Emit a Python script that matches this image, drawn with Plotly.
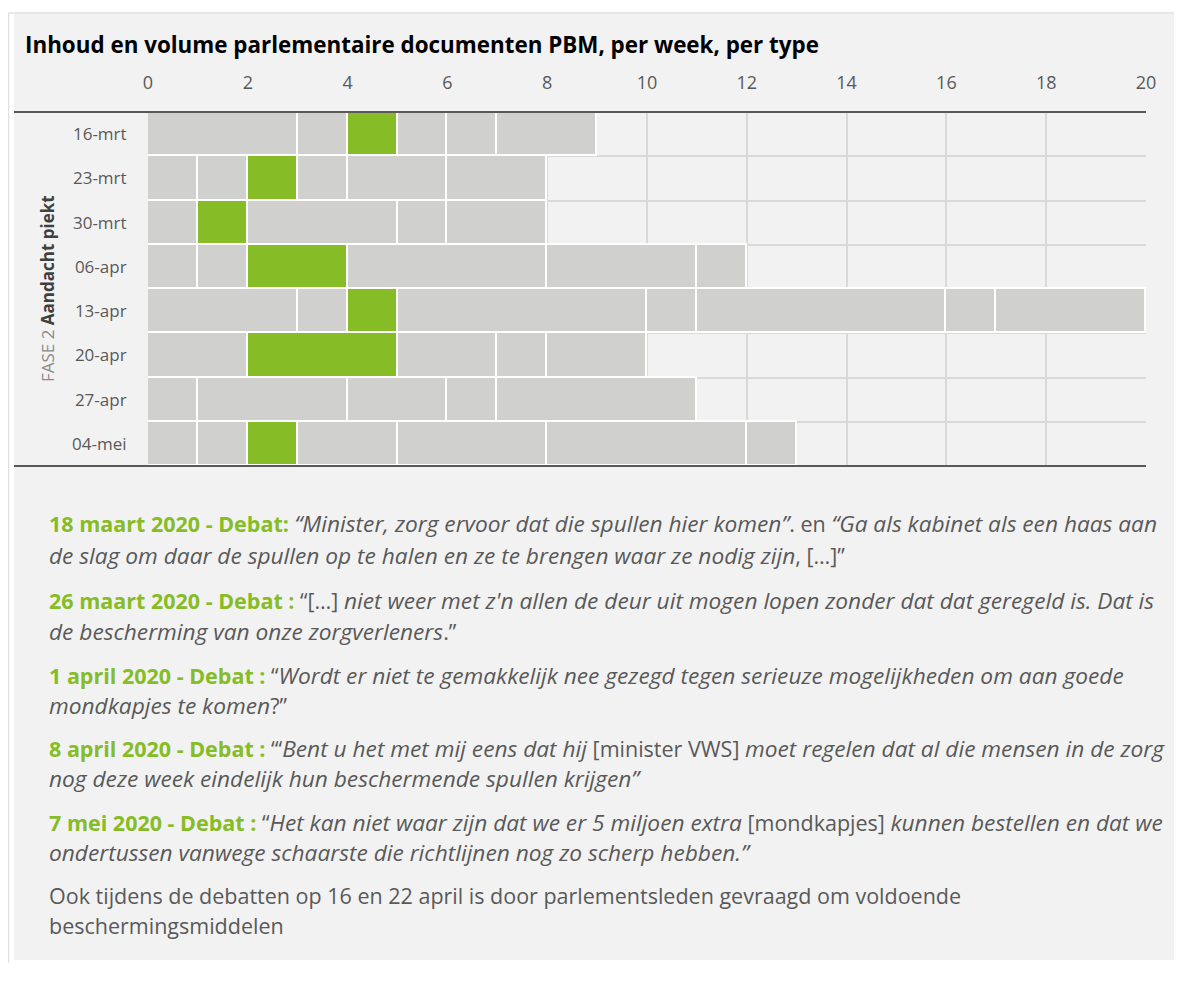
import plotly.graph_objects as go

# ---------------- data ----------------
weeks = ["16-mrt", "23-mrt", "30-mrt", "06-apr", "13-apr", "20-apr", "27-apr", "04-mei"]
docs_16mrt = [3, 1, 1, 1, 1, 2]
docs_23mrt = [1, 1, 1, 1, 2, 2]
docs_30mrt = [1, 1, 3, 1, 2]
docs_06apr = [1, 1, 2, 4, 3, 1]
docs_13apr = [3, 1, 1, 5, 1, 5, 1, 3]
docs_20apr = [2, 3, 2, 1, 2]
docs_27apr = [1, 3, 2, 1, 4]
docs_04mei = [1, 1, 1, 2, 3, 4, 1]
# index of the highlighted (green) document per week (None = no highlight)
green_index = [2, 2, 1, 2, 2, 1, None, 2]
x_ticks = [0, 2, 4, 6, 8, 10, 12, 14, 16, 18, 20]

all_docs = [docs_16mrt, docs_23mrt, docs_30mrt, docs_06apr,
            docs_13apr, docs_20apr, docs_27apr, docs_04mei]

GREY = "#d0d0ce"
GREEN = "#86bc25"
TEXT = "#595959"
PANEL = "#f2f2f2"

OFF = 8  # page body margin
W, H = 1182 - OFF, 955
L, R, T = 148 - OFF, 36, 112 - OFF
B = H - (466 - OFF)
PW = W - L - R
PH = H - T - B


def px(xs):
    """screen x -> paper x"""
    return (xs - OFF - L) / PW


def py(ys):
    """screen y -> paper y"""
    return (H - B - (ys - OFF)) / PH


fig = go.Figure()
ypos = list(range(len(weeks)))
nmax = max(len(d) for d in all_docs)
for k in range(nmax):
    xs, cols = [], []
    for r, d in enumerate(all_docs):
        xs.append(d[k] if k < len(d) else None)
        cols.append(GREEN if green_index[r] == k else GREY)
    fig.add_trace(go.Bar(
        x=xs, y=ypos, orientation="h",
        marker=dict(color=cols, line=dict(color="white", width=1.6)),
        showlegend=False, hoverinfo="x+y",
    ))

fig.update_layout(
    width=W, height=H,
    margin=dict(l=L, r=R, t=T, b=B, pad=0),
    barmode="stack", bargap=0,
    paper_bgcolor="white", plot_bgcolor="rgba(0,0,0,0)",
    font=dict(family="Open Sans", color=TEXT),
    xaxis=dict(side="top", range=[0, 20], tickvals=x_ticks, showgrid=True,
               gridcolor="#d9d9d9", gridwidth=1.5, zeroline=False,
               ticks="outside", ticklen=15, tickcolor="rgba(0,0,0,0)",
               tickfont=dict(size=18, color=TEXT), fixedrange=True),
    yaxis=dict(range=[7.5, -0.5], tickvals=ypos, ticktext=weeks, showgrid=False,
               zeroline=False, ticks="outside", ticklen=17,
               tickcolor="rgba(0,0,0,0)", tickfont=dict(size=17, color=TEXT),
               minor=dict(tickvals=[i + 0.5 for i in ypos[:-1]], showgrid=True,
                          gridcolor="#d9d9d9", gridwidth=1.5, ticks=""),
               fixedrange=True),
)

shapes = [
    dict(type="rect", xref="paper", yref="paper", layer="below",
         x0=px(14), x1=px(1190), y0=py(960), y1=py(14),
         fillcolor=PANEL, line=dict(width=0)),
    dict(type="line", xref="paper", yref="paper", layer="below",
         x0=px(8), x1=px(1190), y0=py(13), y1=py(13),
         line=dict(color="#e0e0e0", width=1.5)),
    dict(type="line", xref="paper", yref="paper", layer="below",
         x0=px(8.5), x1=px(8.5), y0=py(990), y1=py(13),
         line=dict(color="#e0e0e0", width=1.5)),
    dict(type="line", xref="paper", yref="paper", layer="above",
         x0=px(14), x1=1, y0=1, y1=1, line=dict(color=TEXT, width=2)),
    dict(type="line", xref="paper", yref="paper", layer="above",
         x0=px(14), x1=1, y0=0, y1=0, line=dict(color=TEXT, width=2)),
]
fig.update_layout(shapes=shapes)

ann = []
ann.append(dict(xref="paper", yref="paper", x=px(23), y=py(45),
                xanchor="left", yanchor="middle", showarrow=False,
                text="<b>Inhoud en volume parlementaire documenten PBM, per week, per type</b>",
                font=dict(size=22.4, color="black", family="Open Sans")))
ann.append(dict(xref="paper", yref="paper", x=px(47), y=py(289),
                xanchor="center", yanchor="middle", showarrow=False, textangle=-90,
                text="FASE 2 <b><span style='color:#404040'>Aandacht piekt</span></b>",
                font=dict(size=17, color="#8a8a8a")))


def g(s):
    return "<span style='color:%s'><b>%s</b></span>" % (GREEN, s)


def it(s):
    return "<span style='font-size:22.7px'><i>%s</i></span>" % s


lines = [
    (523, g("18 maart 2020 - Debat:") + " " + it("“Minister, zorg ervoor dat die spullen hier komen”") + ". en " + it("“Ga als kabinet als een haas aan")),
    (555, it("de slag om daar de spullen op te halen en ze te brengen waar ze nodig zijn") + ", […]”"),
    (600, g("26 maart 2020 - Debat :") + " “[…] " + it("niet weer met z'n allen de deur uit mogen lopen zonder dat dat geregeld is. Dat is")),
    (631, it("de bescherming van onze zorgverleners") + ".”"),
    (675, g("1 april 2020 - Debat :") + " “" + it("Wordt er niet te gemakkelijk nee gezegd tegen serieuze mogelijkheden om aan goede")),
    (705, it("mondkapjes te komen") + "?”"),
    (748, g("8 april 2020 - Debat :") + " “‘" + it("Bent u het met mij eens dat hij") + " [minister VWS] " + it("moet regelen dat al die mensen in de zorg")),
    (778, it("nog deze week eindelijk hun beschermende spullen krijgen”")),
    (822, g("7 mei 2020 - Debat :") + " “" + it("Het kan niet waar zijn dat we er 5 miljoen extra") + " [mondkapjes] " + it("kunnen bestellen en dat we")),
    (852, it("ondertussen vanwege schaarste die richtlijnen nog zo scherp hebben.”")),
    (895, "Ook tijdens de debatten op 16 en 22 april is door parlementsleden gevraagd om voldoende"),
    (925, "beschermingsmiddelen"),
]
for yline, txt in lines:
    ann.append(dict(xref="paper", yref="paper", x=px(47), y=py(yline),
                    xanchor="left", yanchor="middle", showarrow=False,
                    text=txt, font=dict(size=21.5, color=TEXT)))

fig.update_layout(annotations=ann)
fig.write_html("out.html")
